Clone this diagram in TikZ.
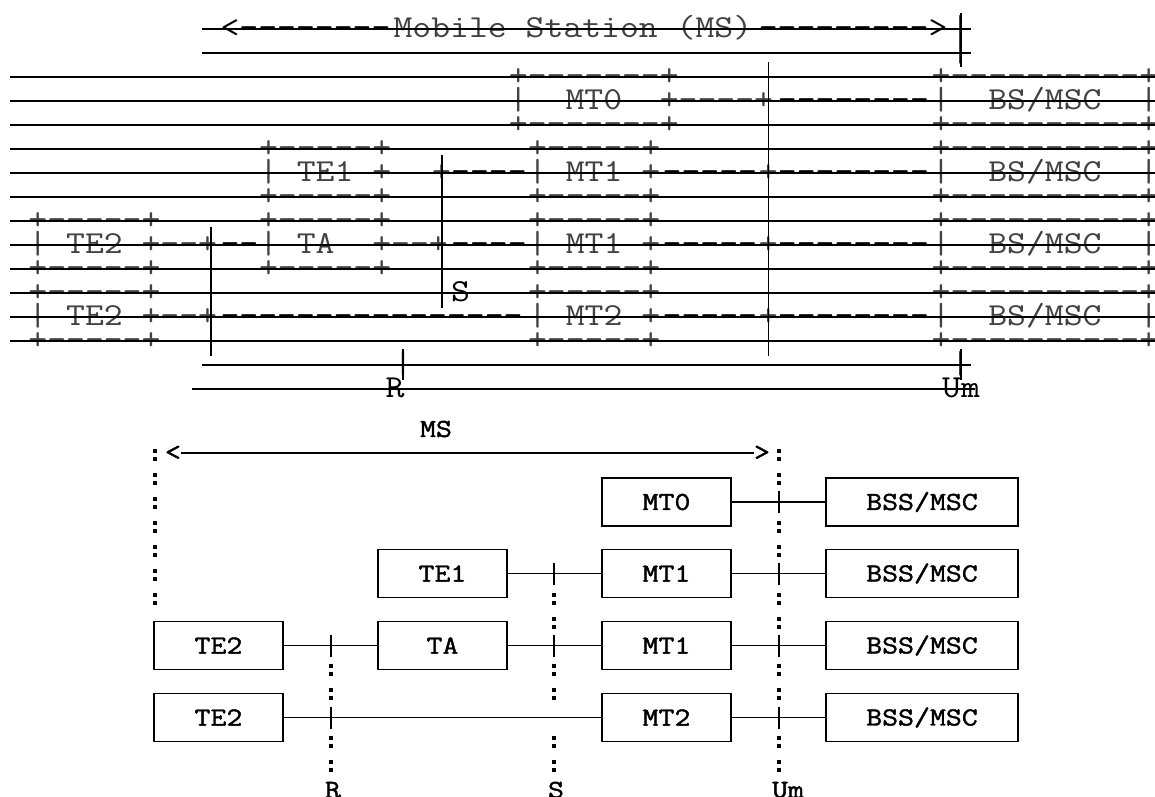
\documentclass[tikz,border=0pt]{standalone}
\usepackage{fontspec}
\setmonofont{Latin Modern Mono}[FakeStretch=1.144]
\newfontfamily\lowfam{Latin Modern Mono}[FakeStretch=1.19,FakeBold=1.6]
\definecolor{ascgray}{HTML}{424242}
\newcommand\topfont{\ttfamily\fontsize{32.03}{34}\selectfont}
\newcommand\lowfont{\lowfam\fontsize{26}{30}\selectfont}
\newcommand\ascat[5][asc]{\node[#1] (#2) at ({28.39+19.22*(#3)},{29+24*(#4)+8.5}) {#5};}
\newcommand\colonat[2]{\fill (#1-1.75,#2-5.75) rectangle ++(3.5,3.5); \fill (#1-1.75,#2+2.25) rectangle ++(3.5,3.5);}
\begin{document}
\begin{tikzpicture}[x=1pt,y=-1pt,
  asc/.style={anchor=base west, inner sep=0pt, outer sep=0pt, font=\topfont, text=ascgray},
  ascb/.style={asc, text=black},
  hline/.style={line width=1.8pt},
  vline/.style={line width=1.8pt},
  box/.style={draw, line width=1.6pt, minimum width=129pt, minimum height=48pt, inner sep=0pt, font=\lowfont},
  wbox/.style={box, minimum width=192pt},
  conn/.style={line width=1.3pt},
  tick/.style={line width=1.5pt},
  lbl/.style={inner sep=0pt, font=\lowfont}]
\fill[white] (0,0) rectangle (1155,796);
\useasboundingbox (0,0) rectangle (1155,796);
% ---------- upper (ASCII) diagram: text ----------
\ascat[ascb]{a0a}{10}{0}{<--------}
\ascat{a0b}{19}{0}{Mobile Station (MS)}
\ascat[ascb]{a0c}{38}{0}{--------->}
\ascat{a0d}{48}{0}{|}
\ascat{a1a}{48}{1}{|}
\ascat{a2a}{25}{2}{+-------+}
\ascat{a2b}{47}{2}{+----------+}
\ascat{a3a}{25}{3}{|~~MT0~~+----+}
\ascat[ascb]{a3b}{39}{3}{--------}
\ascat{a3c}{47}{3}{|~~BS/MSC~~|}
\ascat{a4a}{25}{4}{+-------+}
\ascat{a4b}{47}{4}{+----------+}
\ascat{a5a}{12}{5}{+-----+}
\ascat{a5b}{26}{5}{+-----+}
\ascat{a5c}{47}{5}{+----------+}
\ascat{a6a}{12}{6}{|~TE1~+}
\ascat{a6b}{21}{6}{+}
\ascat[ascb]{a6c}{22}{6}{----}
\ascat{a6d}{26}{6}{|~MT1~+}
\ascat[ascb]{a6e}{33}{6}{-----}
\ascat{a6f}{38}{6}{+}
\ascat[ascb]{a6g}{39}{6}{--------}
\ascat{a6h}{47}{6}{|~~BS/MSC~~|}
\ascat{a7a}{12}{7}{+-----+}
\ascat{a7b}{26}{7}{+-----+}
\ascat{a7c}{47}{7}{+----------+}
\ascat{a8a}{0}{8}{+-----+}
\ascat{a8b}{12}{8}{+-----+}
\ascat{a8c}{26}{8}{+-----+}
\ascat{a8d}{47}{8}{+----------+}
\ascat{a9a}{0}{9}{|~TE2~+--+}
\ascat[ascb]{a9b}{10}{9}{--}
\ascat{a9c}{12}{9}{|~TA~~+--+}
\ascat[ascb]{a9d}{22}{9}{----}
\ascat{a9e}{26}{9}{|~MT1~+}
\ascat[ascb]{a9f}{33}{9}{-----}
\ascat{a9g}{38}{9}{+}
\ascat[ascb]{a9h}{39}{9}{--------}
\ascat{a9i}{47}{9}{|~~BS/MSC~~|}
\ascat{a10a}{0}{10}{+-----+}
\ascat{a10b}{12}{10}{+-----+}
\ascat{a10c}{26}{10}{+-----+}
\ascat{a10d}{47}{10}{+----------+}
\ascat{a11a}{0}{11}{+-----+}
\ascat[ascb]{a11b}{22}{11}{S}
\ascat{a11c}{26}{11}{+-----+}
\ascat{a11d}{47}{11}{+----------+}
\ascat{a12a}{0}{12}{|~TE2~+--+}
\ascat[ascb]{a12b}{10}{12}{----------------}
\ascat{a12c}{26}{12}{|~MT2~+}
\ascat[ascb]{a12d}{33}{12}{-----}
\ascat{a12e}{38}{12}{+}
\ascat[ascb]{a12f}{39}{12}{--------}
\ascat{a12g}{47}{12}{|~~BS/MSC~~|}
\ascat{a13a}{0}{13}{+-----+}
\ascat{a13b}{26}{13}{+-----+}
\ascat{a13c}{47}{13}{+----------+}
\ascat{a14a}{19}{14}{|}
\ascat{a14b}{48}{14}{|}
\node[ascb, anchor=base] (a15r) at (395,397.5) {R};
\node[ascb, anchor=base] (a15um) at (961,397.5) {Um};
% ---------- upper diagram: strokes ----------
\foreach \k in {2,...,13} \draw[hline] (10,{29+24*\k}) -- (1155,{29+24*\k});
\draw[hline] (202,29) -- (971,29);
\draw[hline] (202,53) -- (971,53);
\draw[hline] (202,365) -- (971,365);
\draw[hline] (192,389) -- (975,389);
\draw[vline] (960.6,13) -- (960.6,67);
\draw[vline] (768.4,62) -- (768.4,356);
\draw[vline] (441.6,155) -- (441.6,308);
\draw[vline] (211,227) -- (211,356);
\draw[vline] (403.2,349) -- (403.2,380);
\draw[vline] (960.6,349) -- (960.6,380);
% ---------- lower diagram ----------
\node[lbl] (ms) at (436,429) {MS};
\node[lbl] (lt) at (173,453) {<};
\node[lbl] (gt) at (762,453) {>};
\draw[conn] (lt.east) -- (gt.west);
\node[box] (mt0) at (666.5,502) {MT0};
\node[wbox] (bss1) at (922,502) {BSS/MSC};
\node[box] (te1) at (442.5,573.5) {TE1};
\node[box] (mt1a) at (666.5,573.5) {MT1};
\node[wbox] (bss2) at (922,573.5) {BSS/MSC};
\node[box] (te2a) at (218.5,645.5) {TE2};
\node[box] (ta) at (442.5,645.5) {TA};
\node[box] (mt1b) at (666.5,645.5) {MT1};
\node[wbox] (bss3) at (922,645.5) {BSS/MSC};
\node[box] (te2b) at (218.5,717.5) {TE2};
\node[box] (mt2) at (666.5,717.5) {MT2};
\node[wbox] (bss4) at (922,717.5) {BSS/MSC};
\draw[conn] (mt0.east) -- (bss1.west);
\draw[conn] (te1.east) -- (mt1a.west);
\draw[conn] (mt1a.east) -- (bss2.west);
\draw[conn] (te2a.east) -- (ta.west);
\draw[conn] (ta.east) -- (mt1b.west);
\draw[conn] (mt1b.east) -- (bss3.west);
\draw[conn] (te2b.east) -- (mt2.west);
\draw[conn] (mt2.east) -- (bss4.west);
\coordinate (u1) at (779,502);
\coordinate (u2) at (779,573.5);
\coordinate (u3) at (779,645.5);
\coordinate (u4) at (779,717.5);
\coordinate (s2) at (554,573.5);
\coordinate (s3) at (554,645.5);
\coordinate (r3) at (331,645.5);
\coordinate (r4) at (331,717.5);
\foreach \c in {u1,u2,u3,u4,s2,s3,r3,r4}
  \draw[tick] ([yshift=11pt]\c) -- ([yshift=-11pt]\c);
\foreach \y in {455,479,503,527,551,575,599} {\colonat{155}{\y}}
\foreach \y in {455,479,527,551,599,623,670,694,742,766} {\colonat{779}{\y}}
\foreach \y in {599,623,670,694,742,766} {\colonat{554}{\y}}
\foreach \y in {670,694,742,766} {\colonat{331}{\y}}
\node[lbl] (lr) at (333,790) {R};
\node[lbl] (ls) at (556,790) {S};
\node[lbl] (lum) at (788,790) {Um};
\end{tikzpicture}
\end{document}
